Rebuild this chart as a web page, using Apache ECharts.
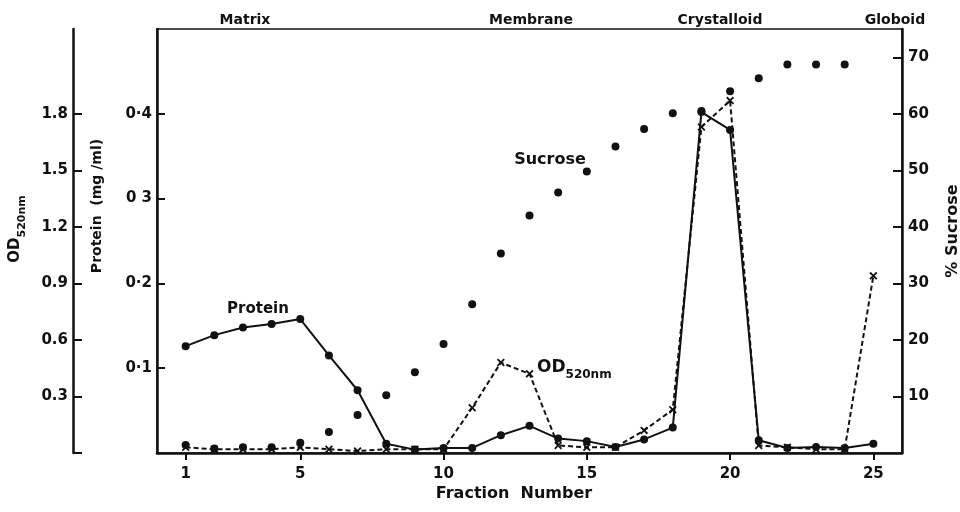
<!DOCTYPE html>
<html>
<head>
<meta charset="utf-8">
<script src="https://cdn.jsdelivr.net/npm/echarts@6/dist/echarts.min.js"></script>
<style>
  html, body { margin: 0; padding: 0; background: #fff; }
  #chart { width: 960px; height: 512px; }
</style>
</head>
<body>
<div id="chart"></div>
<script>
// fraction numbers
var fractions = [1, 2, 3, 4, 5, 6, 7, 8, 9, 10, 11, 12, 13, 14, 15, 16, 17, 18, 19, 20, 21, 22, 23, 24, 25];
// protein (mg/ml)
var protein = [0.126, 0.139, 0.148, 0.152, 0.158, 0.115, 0.074, 0.011, 0.004, 0.006, 0.006, 0.021, 0.032,
               0.017, 0.014, 0.007, 0.016, 0.030, 0.402, 0.381, 0.015, 0.006, 0.007, 0.006, 0.011];
// OD 520nm
var od520 = [0.03, 0.02, 0.02, 0.02, 0.03, 0.02, 0.01, 0.02, 0.02, 0.02, 0.24, 0.48, 0.42,
             0.04, 0.03, 0.03, 0.12, 0.23, 1.73, 1.87, 0.04, 0.03, 0.02, 0.02, 0.94];
// % sucrose (none read for fraction 25)
var sucrose = [1.4, 0.8, 1.0, 1.0, 1.8, 3.7, 6.7, 10.2, 14.3, 19.3, 26.3, 35.3, 42.0,
               46.1, 49.8, 54.2, 57.3, 60.1, 60.5, 64.0, 66.3, 68.7, 68.7, 68.7, null];

var xTicks = [1, 5, 10, 15, 20, 25];
var proteinTicks = [0.1, 0.2, 0.3, 0.4];
var proteinTickLabels = ['0·1', '0·2', '0 3', '0·4'];
var odTicks = [0, 0.3, 0.6, 0.9, 1.2, 1.5, 1.8];
var odTickLabels = [0.3, 0.6, 0.9, 1.2, 1.5, 1.8];
var sucroseTicks = [10, 20, 30, 40, 50, 60, 70];

var regions = ['Matrix', 'Membrane', 'Crystalloid', 'Globoid'];
var regionX = [245, 531, 720, 895];

var FONT = 'DejaVu Sans';
var INK = '#111';

function pairs(vals) {
    var out = [];
    for (var i = 0; i < fractions.length; i++) {
        if (vals[i] != null) out.push([fractions[i], vals[i]]);
    }
    return out;
}

var crossSymbol = 'path://M0,1.6L1.6,0L5,3.4L8.4,0L10,1.6L6.6,5L10,8.4L8.4,10L5,6.6L1.6,10L0,8.4L3.4,5Z';

var labelStyle = { color: INK, fontFamily: FONT, fontWeight: 'bold', fontSize: 15 };

function txt(x, y, text, size, rot) {
    return {
        type: 'text', x: x, y: y, rotation: rot || 0,
        style: { text: text, fill: INK, font: 'bold ' + size + 'px "' + FONT + '"', textAlign: 'center', textVerticalAlign: 'middle' }
    };
}

// "OD" with subscript "520nm"
function odText(x, y, big, small, align, rot) {
    var lh = big + 5;
    return {
        type: 'text', x: x, y: y, rotation: rot || 0,
        style: {
            text: '{a|OD}{b|520nm}', fill: INK, textAlign: align, textVerticalAlign: 'middle',
            rich: {
                a: { fontFamily: FONT, fontWeight: 'bold', fontSize: big, lineHeight: lh, verticalAlign: 'top' },
                b: { fontFamily: FONT, fontWeight: 'bold', fontSize: small, lineHeight: lh, verticalAlign: 'bottom' }
            }
        }
    };
}

var graphics = [];
regions.forEach(function (name, i) {
    graphics.push(txt(regionX[i], 20, name, 14));
});
// axis titles
graphics.push(odText(18, 229, 15, 11, 'center', Math.PI / 2));
graphics.push(txt(97, 206, 'Protein  (mg /ml)', 14, Math.PI / 2));
graphics.push(txt(953, 231, '% Sucrose', 16, Math.PI / 2));
graphics.push(txt(514, 494, 'Fraction  Number', 16));
// series labels
graphics.push(txt(258, 309, 'Protein', 15));
graphics.push(txt(550, 160, 'Sucrose', 16));
graphics.push(odText(537, 370, 17, 12, 'left'));

var myChart = echarts.init(document.getElementById('chart'));

var option = {
    backgroundColor: '#fff',
    animation: false,
    grid: { left: 157, right: 58, top: 29, bottom: 59, show: true, borderColor: INK, borderWidth: 1.5, backgroundColor: 'transparent' },
    graphic: graphics,
    xAxis: {
        type: 'value', min: 0, max: 26,
        axisLine: { lineStyle: { color: INK, width: 2.5 } },
        axisTick: { customValues: xTicks, length: 7, lineStyle: { color: INK, width: 2 } },
        axisLabel: Object.assign({ customValues: xTicks, margin: 14 }, labelStyle),
        splitLine: { show: false }
    },
    yAxis: [
        {   // protein
            type: 'value', position: 'left', min: 0, max: 0.5,
            axisLine: { show: true, lineStyle: { color: INK, width: 2.5 } },
            axisTick: { show: true, inside: true, customValues: proteinTicks, length: 8, lineStyle: { color: INK, width: 2 } },
            axisLabel: Object.assign({
                customValues: proteinTicks, margin: 5,
                formatter: function (v) {
                    for (var i = 0; i < proteinTicks.length; i++) {
                        if (Math.abs(proteinTicks[i] - v) < 1e-6) return proteinTickLabels[i];
                    }
                    return '';
                }
            }, labelStyle),
            splitLine: { show: false }
        },
        {   // OD520
            type: 'value', position: 'left', offset: 84, min: 0, max: 2.25,
            axisLine: { show: true, lineStyle: { color: INK, width: 2.5 } },
            axisTick: { show: true, inside: true, customValues: odTicks, length: 9, lineStyle: { color: INK, width: 2 } },
            axisLabel: Object.assign({ customValues: odTickLabels, margin: 5, formatter: function (v) { return v.toFixed(1); } }, labelStyle),
            splitLine: { show: false }
        },
        {   // sucrose
            type: 'value', position: 'right', min: 0, max: 75,
            axisLine: { show: true, lineStyle: { color: INK, width: 2.5 } },
            axisTick: { show: true, inside: true, customValues: sucroseTicks, length: 9, lineStyle: { color: INK, width: 2 } },
            axisLabel: Object.assign({ customValues: sucroseTicks, margin: 6 }, labelStyle),
            splitLine: { show: false }
        }
    ],
    series: [
        {
            name: 'Protein', type: 'line', yAxisIndex: 0, data: pairs(protein),
            symbol: 'circle', symbolSize: 8,
            lineStyle: { color: INK, width: 2 }, itemStyle: { color: INK, opacity: 1 }, z: 3
        },
        {
            name: 'OD520nm', type: 'line', yAxisIndex: 1, data: pairs(od520),
            symbol: crossSymbol, symbolSize: 8,
            lineStyle: { color: INK, width: 2, type: [5, 3] }, itemStyle: { color: INK, opacity: 1 }, z: 2
        },
        {
            name: 'Sucrose', type: 'scatter', yAxisIndex: 2, data: pairs(sucrose),
            symbol: 'circle', symbolSize: 8, itemStyle: { color: INK, opacity: 1 }, z: 4
        }
    ]
};

myChart.setOption(option);
</script>
</body>
</html>
